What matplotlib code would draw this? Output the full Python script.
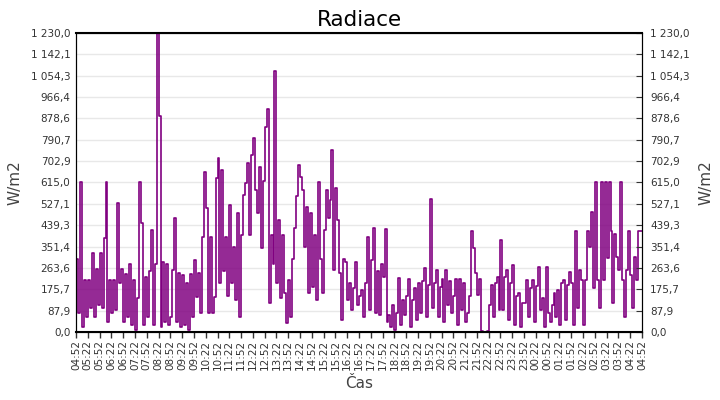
import matplotlib

matplotlib.use("Agg")
import matplotlib.pyplot as plt
import numpy as np
from matplotlib.ticker import FixedLocator, FuncFormatter

# radiation readings every 5 minutes, 04:52 -> 04:52 next day (one row per hour)
radiation = [
    300, 80, 615, 20, 215, 60, 215, 100, 325, 60, 260, 110,
    325, 100, 386, 615, 40, 215, 80, 215, 90, 530, 200, 260,
    40, 240, 60, 280, 30, 215, 10, 140, 615, 448, 30, 225,
    60, 250, 420, 30, 280, 1230, 888, 20, 290, 40, 280, 30,
    60, 255, 468, 40, 242, 20, 236, 30, 200, 10, 240, 60,
    296, 144, 242, 80, 390, 659, 510, 78, 390, 78, 144, 633,
    715, 200, 666, 250, 390, 150, 522, 200, 350, 130, 489, 62,
    400, 563, 612, 694, 398, 727, 800, 584, 489, 678, 345, 620,
    843, 917, 119, 400, 280, 1073, 200, 460, 140, 400, 160, 37,
    214, 60, 300, 427, 560, 686, 637, 584, 350, 514, 160, 489,
    185, 400, 131, 616, 300, 160, 420, 584, 468, 542, 748, 255,
    592, 460, 242, 49, 300, 288, 131, 200, 90, 180, 288, 110,
    150, 173, 60, 200, 390, 90, 296, 427, 80, 250, 70, 280,
    226, 423, 40, 70, 20, 111, 10, 80, 222, 30, 131, 70,
    150, 218, 20, 130, 180, 50, 201, 80, 210, 263, 60, 193,
    547, 99, 200, 255, 60, 185, 220, 40, 255, 110, 210, 80,
    150, 218, 30, 218, 90, 200, 40, 80, 150, 415, 345, 242,
    152, 218, 5, 0, 0, 5, 111, 193, 60, 200, 226, 90,
    378, 90, 226, 255, 50, 200, 275, 30, 150, 160, 20, 120,
    119, 214, 60, 180, 214, 40, 190, 267, 90, 140, 20, 267,
    80, 40, 110, 160, 60, 173, 30, 200, 214, 50, 193, 247,
    200, 30, 415, 100, 255, 214, 30, 214, 415, 350, 493, 180,
    616, 214, 100, 616, 214, 616, 304, 616, 415, 120, 404, 308,
    255, 616, 214, 60, 255, 415, 234, 100, 308, 214, 415, 415,
    415,
]
step_minutes = 5
start_hour, start_minute = 4, 52

y_max = 1230.0
y_ticks = [y_max * i / 14 for i in range(15)]

minutes = np.arange(len(radiation)) * step_minutes
x_ticks = np.arange(0, 1441, 30)


def fmt_time(m, pos=None):
    total = int(round(start_hour * 60 + start_minute + m)) % 1440
    return f"{total // 60:02d}:{total % 60:02d}"


def fmt_value(v, pos=None):
    return f"{v:,.1f}".replace(",", " ").replace(".", ",")


fig = plt.figure(figsize=(7.2, 4.0), dpi=100)
ax = fig.add_axes([0.1056, 0.17, 0.786, 0.7475])

ax.plot(minutes, radiation, color="#800080", linewidth=1.2, drawstyle="steps-post")

ax.set_xlim(0, 1440)
ax.set_ylim(0, y_max)

ax.yaxis.set_major_locator(FixedLocator(y_ticks))
ax.yaxis.set_major_formatter(FuncFormatter(fmt_value))
ax.xaxis.set_major_locator(FixedLocator(x_ticks))
ax.xaxis.set_major_formatter(FuncFormatter(fmt_time))

ax.grid(axis="y", color="#e8e8e8", linewidth=1.0)
ax.set_axisbelow(True)

ax.tick_params(axis="x", direction="out", length=4, width=1, labelsize=7.5,
               labelrotation=90, colors="#333333", pad=2)
ax.tick_params(axis="y", length=0, labelsize=7.5, colors="#333333", pad=4)

for side in ["left", "bottom", "top", "right"]:
    ax.spines[side].set_color("black")
ax.spines["top"].set_linewidth(1.5)
ax.spines["bottom"].set_linewidth(1.5)

ax.set_title("Radiace", fontsize=15.5, pad=5)
ax.set_xlabel("Čas", fontsize=11, color="#444444", labelpad=4)
ax.set_ylabel("W/m2", fontsize=11, color="#444444", labelpad=6)

ax_r = ax.twinx()
ax_r.set_ylim(0, y_max)
ax_r.yaxis.set_major_locator(FixedLocator(y_ticks))
ax_r.yaxis.set_major_formatter(FuncFormatter(fmt_value))
ax_r.tick_params(axis="y", direction="in", length=4, labelsize=7.5, colors="#333333", pad=6)
ax_r.set_ylabel("W/m2", fontsize=11, color="#444444", labelpad=6)

fig.savefig("out.png", dpi=100)
plt.close(fig)
